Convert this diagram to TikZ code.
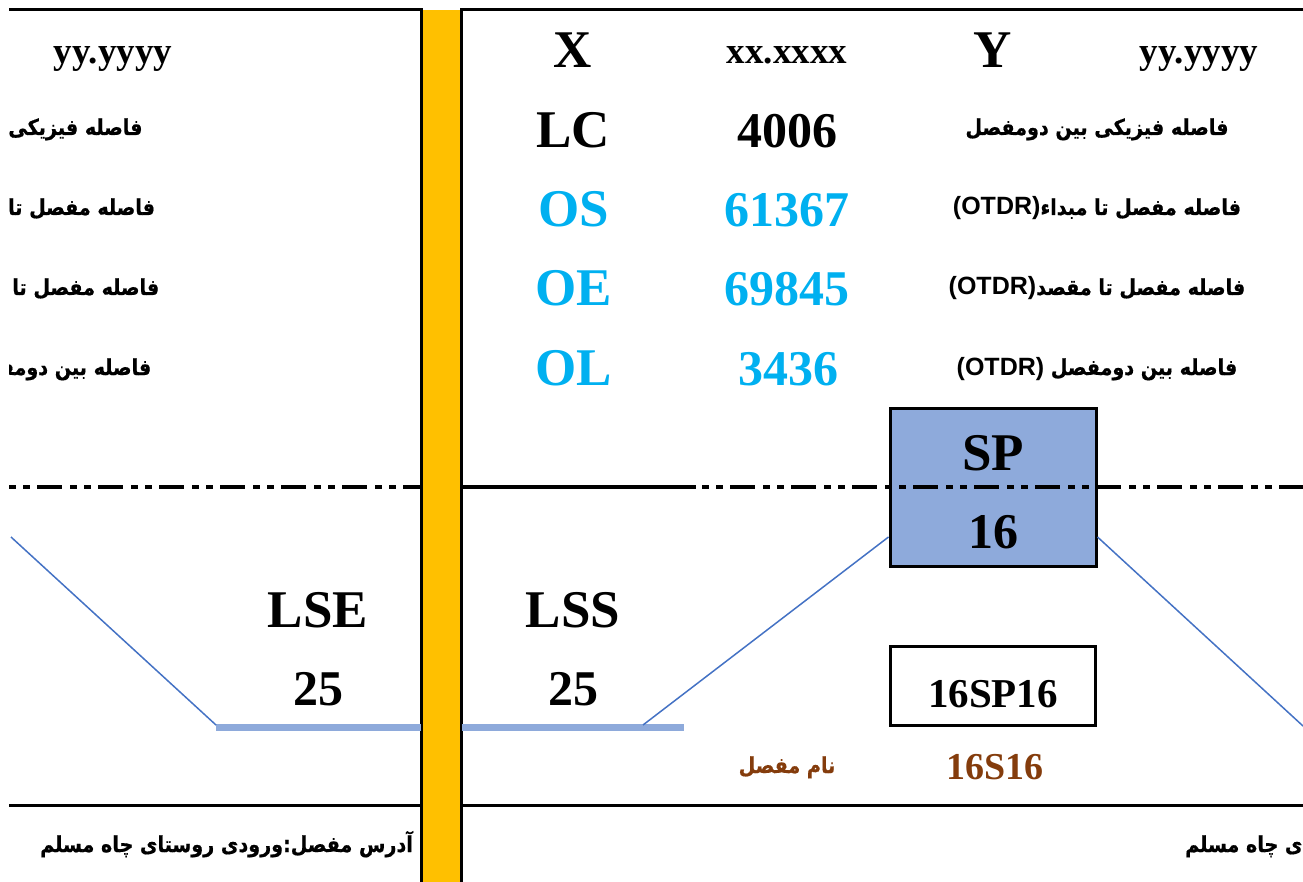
\documentclass[tikz,border=0pt]{standalone}
\usepackage{fontspec}
\setmainfont{Liberation Serif}
\newfontfamily\fafont[Script=Arabic, FakeStretch=0.87, BoldFeatures={FakeBold=0.6}]{DejaVu Sans}
\newfontfamily\lsans{Liberation Sans}
\TeXXeTstate=1
\definecolor{sky}{HTML}{00B0F0}
\definecolor{gold}{HTML}{FFC000}
\definecolor{boxblue}{HTML}{8EAADB}
\definecolor{lineblue}{HTML}{4472C4}
\definecolor{mybrown}{HTML}{843C0C}
\newcommand{\otdr}{{\lsans\bfseries\fontsize{25}{30}\selectfont(OTDR)}}
\tikzset{
  biglbl/.style={inner sep=0pt, anchor=base, font=\bfseries\fontsize{53}{60}\selectfont},
  bignum/.style={inner sep=0pt, anchor=base, font=\bfseries\fontsize{50}{60}\selectfont},
  coordtxt/.style={inner sep=0pt, anchor=base, font=\bfseries\fontsize{37}{44}\selectfont},
  midtxt/.style={inner sep=0pt, anchor=base, font=\bfseries\fontsize{41}{48}\selectfont},
  persian/.style={inner sep=0pt, anchor=base, font=\fafont\bfseries\fontsize{22}{26}\selectfont},
  rulel/.style={line width=3pt},
  dashdotl/.style={line width=4.5pt, dash pattern=on 7pt off 7pt on 7pt off 7pt on 25pt off 8pt},
  thinblue/.style={lineblue, line width=1.5pt},
  thickblue/.style={boxblue, line width=7pt},
  spbox/.style={draw, line width=3pt, fill=boxblue, minimum width=206pt, minimum height=158pt, inner sep=0pt},
  namebox/.style={draw, line width=2.5pt, minimum width=205pt, minimum height=79pt, inner sep=0pt}
}
\begin{document}
\begin{tikzpicture}[x=1pt,y=-1pt]
\useasboundingbox (0,0) rectangle (1303,882);
\begin{scope}
\clip (9,0) rectangle (1303,882);
% yellow separator
\fill[gold] (423,10) rectangle (460,882);
\draw[rulel] (421.5,8.5) -- (421.5,882);
\draw[rulel] (461.5,8.5) -- (461.5,882);
% top and bottom rules
\draw[rulel] (9,10) -- (423,10);
\draw[rulel] (460,10) -- (1303,10);
\draw[rulel] (9,805) -- (421,805);
\draw[rulel] (462,805) -- (1303,805);

% ===== right card =====
\node[biglbl] (X) at (573,68) {X};
\node[coordtxt] (xval) at (787,64) {xx.xxxx};
\node[biglbl] (Y) at (993,68) {Y};
\node[coordtxt] (yval) at (1199,64) {yy.yyyy};

\node[biglbl] (LC) at (573,148) {LC};
\node[bignum] (LCv) at (787,148) {4006};
\node[biglbl, text=sky] (OS) at (574,227) {OS};
\node[bignum, text=sky] (OSv) at (787,227) {61367};
\node[biglbl, text=sky] (OE) at (574,306) {OE};
\node[bignum, text=sky] (OEv) at (787,306) {69845};
\node[biglbl, text=sky] (OL) at (574,385) {OL};
\node[bignum, text=sky] (OLv) at (788,385) {3436};

\node[persian] (r1) at (1097,135) {\beginR فاصله فیزیکی بین دومفصل\endR};
\node[persian] (r2) at (1097,215) {\beginR فاصله مفصل تا مبداء\beginL\otdr\endL\endR};
\node[persian] (r3) at (1097,295) {\beginR فاصله مفصل تا مقصد\beginL\otdr\endL\endR};
\node[persian] (r4) at (1097,375) {\beginR فاصله بین دومفصل \beginL\otdr\endL\endR};

% joint box
\node[spbox] (sp) at (993,487) {};
\node[biglbl] (spt) at (993,470) {SP};
\node[bignum] (spn) at (993,548) {16};

% middle rule
\coordinate (mstart) at (463,487);
\coordinate (msolid) at (696,487);
\coordinate (mend) at (1303,487);
\draw[line width=4.5pt] (mstart) -- (msolid);
\draw[dashdotl] (702,487) -- (mend);

\node[biglbl] (lss) at (573,627) {LSS};
\node[bignum] (lssv) at (573,705) {25};
\coordinate (cabR0) at (462,727);
\coordinate (cabR1) at (684,727);
\draw[thickblue] (cabR0) -- (cabR1);
\coordinate (cabRj) at (643,725);
\draw[thinblue] (cabRj) -- ([yshift=-50pt]sp.west);
\coordinate (cabRe) at (1303,726);
\draw[thinblue] ([yshift=-50pt]sp.east) -- (cabRe);

\node[namebox] (nm) at (993,686) {};
\node[midtxt] (nmt) at (993,707) {16SP16};
\node[persian, text=mybrown] (nml) at (787,773) {\beginR نام مفصل\endR};
\node[midtxt, text=mybrown, font=\bfseries\fontsize{38}{44}\selectfont] (code) at (995,779) {16S16};

\node[persian, anchor=base west] (addrR) at (1185,852) {\beginR آدرس مفصل:ورودی روستای چاه مسلم\endR};

% ===== left card (partly visible) =====
\node[coordtxt] (yvalL) at (113,64) {yy.yyyy};
\node[persian] (l1) at (11,135) {\beginR فاصله فیزیکی بین دومفصل\endR};
\node[persian] (l2) at (11,215) {\beginR فاصله مفصل تا مبداء\beginL\otdr\endL\endR};
\node[persian] (l3) at (11,295) {\beginR فاصله مفصل تا مقصد\beginL\otdr\endL\endR};
\node[persian] (l4) at (11,375) {\beginR فاصله بین دومفصل \beginL\otdr\endL\endR};
\draw[dashdotl] (9,487) -- (420,487);
\node[biglbl] (lse) at (318,627) {LSE};
\node[bignum] (lsev) at (318,705) {25};
\coordinate (cabL0) at (216,727);
\coordinate (cabL1) at (421,727);
\draw[thickblue] (cabL0) -- (cabL1);
\coordinate (cabLs) at (11,537);
\coordinate (cabLj) at (216,725);
\draw[thinblue] (cabLs) -- (cabLj);
\node[persian, anchor=base east] (addrL) at (413,852) {\beginR آدرس مفصل:ورودی روستای چاه مسلم\endR};
\end{scope}
\end{tikzpicture}
\end{document}
